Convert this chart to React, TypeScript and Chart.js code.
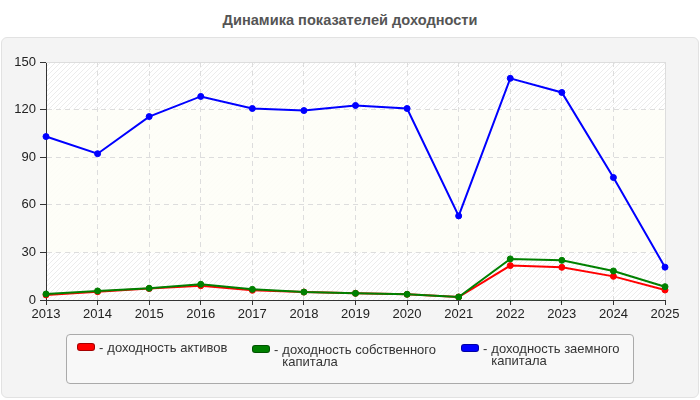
import React, { useEffect, useRef } from "react";
import { Chart, registerables } from "chart.js";

Chart.register(...registerables);

const years = ["2013", "2014", "2015", "2016", "2017", "2018", "2019", "2020", "2021", "2022", "2023", "2024", "2025"];
const assetReturns = [3.2, 5.2, 7.2, 9.0, 6.1, 5.0, 4.2, 3.6, 1.9, 21.7, 20.6, 14.9, 6.3];
const equityReturns = [3.8, 5.7, 7.4, 9.9, 6.7, 5.0, 4.2, 3.6, 1.9, 25.9, 25.0, 18.3, 8.4];
const debtReturns = [103, 92.2, 115.6, 128.3, 120.7, 119.4, 122.6, 120.7, 53, 139.7, 130.8, 77.2, 20.7];
const seriesLabels = ["доходность активов", "доходность собственного капитала", "доходность заемного капитала"];
const yMin = 0;
const yMax = 150;
const yStep = 30;
const bandLow = 30;
const bandHigh = 120;
const titleText = "Динамика показателей доходности";

const FONT = "'Liberation Sans', Arial, sans-serif";

const bgPlugin = {
  id: "plotBg",
  beforeDraw(chart: any) {
    const { ctx, chartArea: a, scales } = chart;
    if (!a) return;
    ctx.save();
    ctx.beginPath();
    ctx.rect(a.left, a.top, a.right - a.left, a.bottom - a.top);
    ctx.clip();
    ctx.fillStyle = "#ffffff";
    ctx.fillRect(a.left, a.top, a.right - a.left, a.bottom - a.top);
    ctx.strokeStyle = "#ececec";
    ctx.lineWidth = 1;
    const h = a.bottom - a.top;
    ctx.beginPath();
    for (let x = a.left - h; x < a.right + 5; x += 5) {
      ctx.moveTo(x, a.bottom);
      ctx.lineTo(x + h, a.top);
    }
    ctx.stroke();
    const y1 = scales.y.getPixelForValue(bandHigh);
    const y2 = scales.y.getPixelForValue(bandLow);
    ctx.fillStyle = "rgba(254,254,247,0.9)";
    ctx.fillRect(a.left, y1, a.right - a.left, y2 - y1);
    ctx.restore();
  },
  beforeDatasetsDraw(chart: any) {
    const { ctx, chartArea: a } = chart;
    ctx.save();
    ctx.strokeStyle = "#dddddd";
    ctx.lineWidth = 1;
    ctx.beginPath();
    ctx.moveTo(a.left, a.top + 0.5);
    ctx.lineTo(a.right + 0.5, a.top + 0.5);
    ctx.lineTo(a.right + 0.5, a.bottom);
    ctx.stroke();
    ctx.restore();
  },
};

const colors = ["#ff0000", "#008000", "#0000ff"];

export default function App() {
  const ref = useRef<HTMLCanvasElement>(null);

  useEffect(() => {
    if (!ref.current) return;
    const mk = (i: number, data: number[], order: number) => ({
      label: seriesLabels[i],
      data,
      borderColor: colors[i],
      backgroundColor: colors[i],
      pointBackgroundColor: colors[i],
      pointBorderColor: colors[i],
      borderWidth: 2,
      pointRadius: 3,
      pointBorderWidth: 1,
      tension: 0,
      fill: false,
      order,
    });
    const chart = new Chart(ref.current, {
      type: "line",
      data: {
        labels: years,
        datasets: [mk(0, assetReturns, 2), mk(1, equityReturns, 1), mk(2, debtReturns, 0)],
      },
      plugins: [bgPlugin],
      options: {
        animation: false,
        responsive: false,
        devicePixelRatio: 1,
        layout: { padding: { top: 25, right: 35, left: 0, bottom: 0 } },
        plugins: { legend: { display: false }, title: { display: false }, tooltip: { enabled: false } },
        scales: {
          x: {
            type: "category",
            offset: false,
            afterFit: (s: any) => {
              s.height = 37;
            },
            grid: {
              color: (c: any) => (c.index === 0 ? "rgba(0,0,0,0)" : "#dddddd"),
              tickColor: "#333333",
              tickLength: 5,
            },
            border: { color: "#333333", width: 1, dash: [5, 4] },
            ticks: { color: "#222222", font: { family: FONT, size: 13 }, padding: 2, maxRotation: 0, autoSkip: false },
          },
          y: {
            min: yMin,
            max: yMax,
            afterFit: (s: any) => {
              s.width = 46;
            },
            grid: {
              color: (c: any) => (c.index === 0 ? "rgba(0,0,0,0)" : "#dddddd"),
              tickColor: "#333333",
              tickLength: 6,
            },
            border: { color: "#333333", width: 1, dash: [5, 4] },
            ticks: { stepSize: yStep, color: "#222222", font: { family: FONT, size: 13 }, padding: 4 },
          },
        },
      },
    } as any);
    return () => chart.destroy();
  }, []);

  const legendLefts = [77, 252, 461];
  const legendTops = [343, 345, 344];

  return (
    <div style={{ position: "absolute", left: 0, top: 0, width: 700, height: 400, background: "#ffffff", fontFamily: FONT, overflow: "hidden" }}>
      <div style={{ position: "absolute", left: 0, top: 11, width: 700, textAlign: "center", fontWeight: "bold", fontSize: 14.6, color: "#555555", lineHeight: "18px" }}>
        {titleText}
      </div>
      <div style={{ position: "absolute", left: 1, top: 37, width: 696, height: 359, background: "#f4f4f4", border: "1px solid #e2e2e2", borderRadius: 6 }} />
      <canvas ref={ref} width={700} height={300} style={{ position: "absolute", left: 0, top: 37, width: 700, height: 300 }} />
      <div style={{ position: "absolute", left: 66, top: 334, width: 566, height: 48, background: "#f8f8f8", border: "1px solid #aaaaaa", borderRadius: 4 }} />
      {seriesLabels.map((lab, i) => (
        <div key={i} style={{ position: "absolute", left: legendLefts[i], top: legendTops[i], display: "flex", alignItems: "flex-start", fontSize: 13, color: "#333333", lineHeight: "12px" }}>
          <div style={{ width: 16, height: 6, background: colors[i], border: "1px solid rgba(0,0,0,0.35)", borderRadius: 3 }} />
          <div style={{ marginLeft: 4, marginTop: -1 }}>-</div>
          <div style={{ marginLeft: 4, width: 168, marginTop: -1 }}>{lab}</div>
        </div>
      ))}
    </div>
  );
}
